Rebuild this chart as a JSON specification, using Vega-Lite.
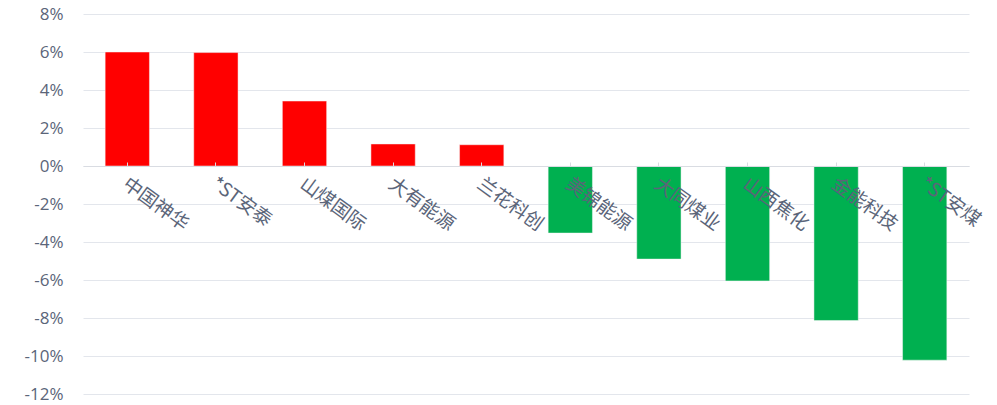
{
  "$schema": "https://vega.github.io/schema/vega-lite/v6.json",
  "width": 886,
  "height": 380,
  "autosize": {"type": "none"},
  "padding": {"left": 83, "top": 14, "right": 28, "bottom": 11},
  "background": "white",
  "config": {"view": {"stroke": null}, "font": "Noto Sans CJK SC"},
  "data": {
    "values": [
      {"name": "中国神华", "value": 6.0},
      {"name": "*ST安泰", "value": 5.97},
      {"name": "山煤国际", "value": 3.42},
      {"name": "大有能源", "value": 1.16},
      {"name": "兰花科创", "value": 1.12},
      {"name": "美锦能源", "value": -3.53},
      {"name": "大同煤业", "value": -4.9},
      {"name": "山西焦化", "value": -6.05},
      {"name": "金能科技", "value": -8.13},
      {"name": "*ST安煤", "value": -10.22}
    ]
  },
  "mark": {"type": "bar", "stroke": "#f4f4f4", "strokeWidth": 0.5},
  "encoding": {
    "x": {
      "field": "name",
      "type": "nominal",
      "sort": null,
      "scale": {"paddingInner": 0.5, "paddingOuter": 0.25},
      "axis": {
        "title": null,
        "orient": "bottom",
        "offset": -228,
        "labelAngle": 36,
        "labelAlign": "left",
        "labelBaseline": "top",
        "labelPadding": 12,
        "labelOffset": 3,
        "labelFontSize": 19,
        "labelColor": "#5b6579",
        "domainColor": "#d9dce2",
        "tickColor": "#d9dce2",
        "tickSize": -4,
        "zindex": 1
      }
    },
    "y": {
      "field": "value",
      "type": "quantitative",
      "scale": {"domain": [-12, 8], "nice": false},
      "axis": {
        "title": null,
        "values": [-12, -10, -8, -6, -4, -2, 0, 2, 4, 6, 8],
        "labelExpr": "datum.value + '%'",
        "labelFont": "Open Sans",
        "labelFontSize": 17,
        "labelColor": "#5b6579",
        "labelPadding": 20,
        "domain": false,
        "ticks": false,
        "gridColor": "#e3e6ec"
      }
    },
    "color": {
      "condition": {"test": "datum.value >= 0", "value": "#ff0000"},
      "value": "#00b050"
    }
  }
}
